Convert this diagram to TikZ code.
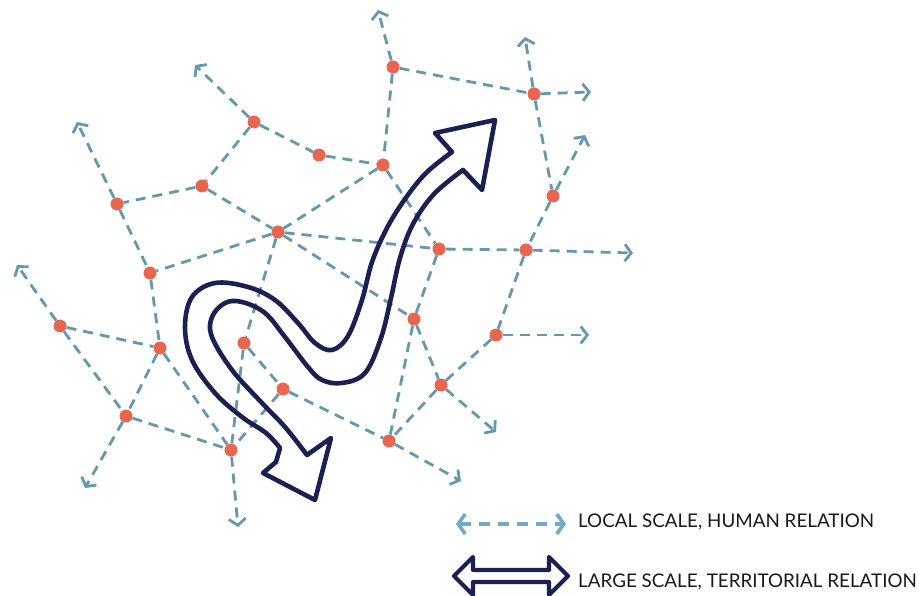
\documentclass[tikz,border=0pt]{standalone}
\usepackage{fontspec}
\setmainfont{Lato}
\usetikzlibrary{arrows.meta}
\definecolor{linkc}{RGB}{100,152,174}
\definecolor{legc}{RGB}{112,170,200}
\definecolor{dotc}{RGB}{232,102,80}
\definecolor{navyc}{RGB}{26,32,82}
\definecolor{textc}{RGB}{25,25,25}
\begin{document}
\begin{tikzpicture}[x=1pt,y=-1pt,
  netdot/.style={circle,fill=dotc,inner sep=0pt,minimum size=13pt},
  netlink/.style={draw=linkc,line width=2.8pt,dash pattern=on 10pt off 7pt},
  exitarrow/.style={netlink,-{Straight Barb[length=6.5pt,width=17pt]}},
  bigarrow/.style={draw=navyc,line width=4.6pt,line join=round},
  legdash/.style={draw=legc,line width=3.6pt,dash pattern=on 11pt off 8pt,
    {Straight Barb[length=7pt,width=20pt]}-{Straight Barb[length=7pt,width=20pt]}},
  legtext/.style={anchor=base west,font=\fontsize{18.8}{22}\selectfont,text=textc,inner sep=0pt}]
\useasboundingbox (0,0) rectangle (919,596);

% nodes
\node[netdot] (A) at (393,67) {};
\node[netdot] (J) at (534,94) {};
\node[netdot] (B) at (254,122) {};
\node[netdot] (C) at (319,155) {};
\node[netdot] (D) at (383,165) {};
\node[netdot] (E) at (202,186) {};
\node[netdot] (K) at (553,196) {};
\node[netdot] (F) at (117,204) {};
\node[netdot] (G) at (278,232) {};
\node[netdot] (H) at (439,249) {};
\node[netdot] (M) at (526,250) {};
\node[netdot] (I) at (150,273) {};
\node[netdot] (T) at (414,319) {};
\node[netdot] (N) at (60,326) {};
\node[netdot] (W) at (496,335) {};
\node[netdot] (P) at (244,343) {};
\node[netdot] (O) at (160,348) {};
\node[netdot] (Q) at (283,389) {};
\node[netdot] (U) at (441,385) {};
\node[netdot] (R) at (126,416) {};
\node[netdot] (V) at (389,441) {};
\node[netdot] (S) at (231,450) {};

% free ends
\coordinate (eA) at (378,10);
\coordinate (eB) at (195,65);
\coordinate (eF) at (77,122);
\coordinate (eN) at (17,265);
\coordinate (eR) at (85,488);
\coordinate (eS) at (238,527);
\coordinate (eV) at (461,481);
\coordinate (eU) at (496,432);
\coordinate (eW) at (589,335);
\coordinate (eM) at (633,253);
\coordinate (eK) at (585,135);
\coordinate (eJ1) at (591,92);
\coordinate (eJ2) at (525,37);

% links
\foreach \a/\b in {A/J,A/D,B/C,C/D,B/E,E/F,E/G,F/I,D/G,D/H,G/I,G/H,G/T,G/P,
  I/O,N/O,N/R,O/R,O/S,R/S,P/S,P/Q,Q/S,Q/V,H/M,H/T,T/U,T/V,U/W,U/V,M/W,J/K,K/M}
  \draw[netlink] (\a) -- (\b);

\foreach \a/\b in {A/eA,B/eB,F/eF,N/eN,R/eR,S/eS,V/eV,U/eU,W/eW,M/eM,K/eK,J/eJ1,J/eJ2}
  \draw[exitarrow] (\a) -- (\b);

% large scale arrow
\draw[bigarrow] plot[smooth,tension=0.6] coordinates {(452,152) (426,173) (405,199) (387,228) (372,262) (362,300) (348,336) (332,350) (315,343) (298,323) (275,300) (248,287) (215,283) (192,297) (185,327) (192,360) (215,393) (242,417) (266,433) (280,448)}
  -- (276,462) -- (263,473) -- (315,500) -- (331,438) -- (307,455)
  -- plot[smooth,tension=0.6] coordinates {(307,455) (285,427) (262,403) (232,370) (212,337) (212,317) (225,303) (242,302) (265,313) (285,337) (308,367) (322,380) (342,383) (365,373) (381,338) (391,298) (400,258) (413,224) (434,194) (463,170)}
  -- (482,190) -- (495,120) -- (435,133) -- cycle;

% legend
\coordinate (l1a) at (456,524);
\coordinate (l1b) at (566,524);
\draw[legdash] (l1a) -- (l1b);
\node[legtext] (t1) at (578,527) {LOCAL SCALE, HUMAN RELATION};

\draw[bigarrow,line width=4.2pt] (454,576) -- (473,557) -- (473,570) -- (549,570) -- (549,557) -- (568,576) -- (549,595) -- (549,582) -- (473,582) -- (473,595) -- cycle;
\node[legtext] (t2) at (578,587) {LARGE SCALE, TERRITORIAL RELATION};
\end{tikzpicture}
\end{document}
